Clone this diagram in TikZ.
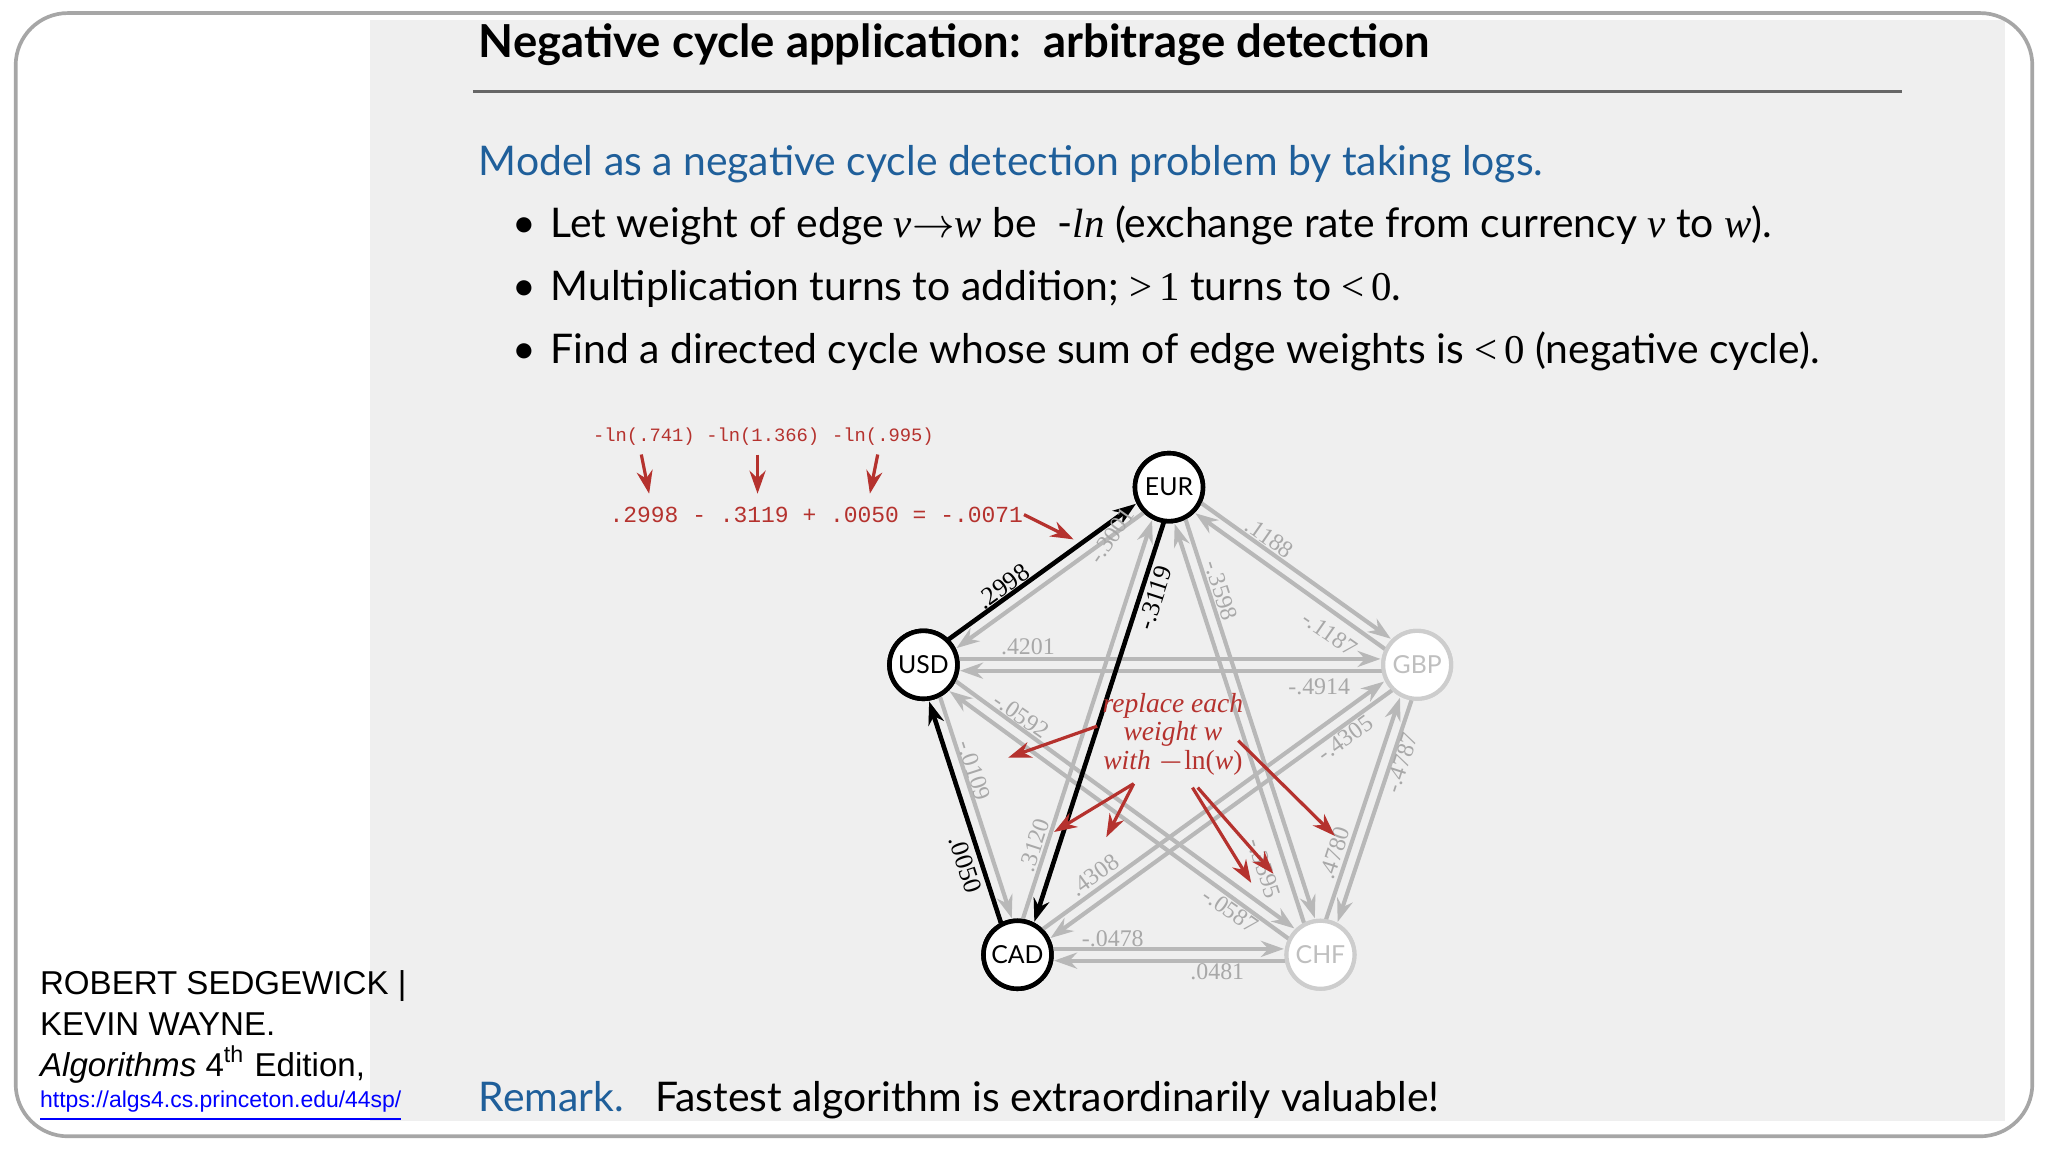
\documentclass[tikz,border=0pt]{standalone}
\usepackage{fontspec}
\setmainfont{Lato}
\newfontfamily\credfont{Liberation Sans}
\newfontfamily\serifit{Liberation Serif}
\newfontfamily\monofont{Liberation Mono}
\usetikzlibrary{arrows.meta,calc,positioning}
\definecolor{SlideClr}{HTML}{EFEFEF}
\definecolor{HeadClr}{HTML}{1F5F9A}
\definecolor{NoteClr}{HTML}{B5322E}
\definecolor{EdgeClr}{HTML}{B8B8B8}
\definecolor{WeightClr}{HTML}{A8A8A8}

\tikzset{
  cur/.style={circle,draw,line width=1pt,fill=white,minimum size=0.52cm,inner sep=0pt,font=\fontsize{5.4}{6}\selectfont},
  pale/.style={cur,draw=EdgeClr!70,text=EdgeClr!90,line width=0.9pt},
  gedge/.style={draw=EdgeClr,line width=0.9pt,-{Stealth[length=5pt,width=3.5pt]},shorten <=0.27cm,shorten >=0.28cm},
  bedge/.style={gedge,draw=black,line width=1pt,fill=black},
  wt/.style={text=WeightClr,font=\fontsize{5.2}{6}\selectfont\serifit,inner sep=0pt},
  bwt/.style={wt,text=black,font=\fontsize{5.6}{6}\selectfont\serifit},
  note/.style={->,draw=NoteClr,line width=0.7pt,-{Stealth[length=5pt,width=3.5pt]}},
  body/.style={anchor=base west,inner sep=0pt,font=\fontsize{8.9}{10}\selectfont}
}

\begin{document}
\begin{tikzpicture}[x=0.01cm,y=-0.01cm]
\useasboundingbox (0,0) rectangle (1568,882);
\fill[white] (0,0) rectangle (1568,882);
\fill[SlideClr] (283,15) rectangle (1535,858);
\draw[gray!70,line width=0.8pt,rounded corners=0.4cm] (12,10) rectangle (1556,870);

% heading
\node[body,font=\fontsize{9.9}{11}\selectfont\bfseries] (title) at (366,44) {Negative cycle application:\ \ arbitrage detection};
\draw[gray!80!black,line width=0.7pt] (362,70) -- (1456,70);
\node[body,text=HeadClr] (model) at (366,134) {Model as a negative cycle detection problem by taking logs.};
\foreach \y/\name/\txt in {
  182/bA/{Let weight of edge {\serifit\itshape v}$\to${\serifit\itshape w} be \ -{\serifit\itshape ln} (exchange rate from currency {\serifit\itshape v} to {\serifit\itshape w}).},
  230/bB/{Multiplication turns to addition; {\serifit >\,1} turns to {\serifit <\,0}.},
  278/bC/{Find a directed cycle whose sum of edge weights is {\serifit <\,0} (negative cycle).}}{
  \node[body] at (392,\y) {\textbullet};
  \node[body] (\name) at (421,\y) {\txt};
}

% currencies
\node[cur] (EUR) at (895,373) {EUR};
\node[cur] (USD) at (707,509) {USD};
\node[pale] (GBP) at (1085,509) {GBP};
\node[cur] (CAD) at (779,731) {CAD};
\node[pale] (CHF) at (1011,731) {CHF};

\foreach \a/\b in {USD/EUR,EUR/GBP,GBP/CHF,CHF/CAD,CAD/USD,USD/GBP,USD/CHF,EUR/CAD,EUR/CHF,GBP/CAD}{
  \draw[gedge] ($(\a)!0.045cm!90:(\b)$) -- ($(\b)!0.045cm!-90:(\a)$);
  \draw[gedge] ($(\b)!0.045cm!90:(\a)$) -- ($(\a)!0.045cm!-90:(\b)$);
}
\foreach \a/\b in {USD/EUR,EUR/CAD,CAD/USD}
  \draw[bedge] ($(\a)!0.045cm!90:(\b)$) -- ($(\b)!0.045cm!-90:(\a)$);
\foreach \n in {EUR,USD,CAD} \node[cur] at (\n) {\n};
\node[pale] at (GBP) {GBP};
\node[pale] at (CHF) {CHF};

% weights
\node[bwt,rotate=36] (w1) at (768,449) {.2998};
\node[bwt,rotate=72] (w2) at (884,458) {-.3119};
\node[bwt,rotate=-72] (w3) at (739,662) {.0050};
\foreach \x/\y/\r/\w [count=\i] in {851/410/55/-.3001, 972/412/-35/.1188, 935/452/-72/-.3598,
  1018/485/-35/-.1187, 787/495/0/.4201, 1010/526/0/-.4914, 782/548/-35/-.0592,
  746/590/-72/-.0109, 792/647/72/.3120, 838/670/36/.4308, 1030/565/36/-.4305,
  1073/584/72/-.4787, 1022/653/72/.4780, 968/665/-72/-.3595, 942/697/-35/-.0587,
  852/719/0/-.0478, 932/744/0/.0481}
  \node[wt,rotate=\r] (g\i) at (\x,\y) {\w};

% red notes
\foreach \x/\t [count=\i] in {493/-ln(.741),584/-ln(1.366),676/-ln(.995)}
  \node[text=NoteClr,font=\fontsize{4.1}{5}\selectfont\monofont] (ln\i) at (\x,334) {\t};
\node[text=NoteClr,font=\fontsize{5}{6}\selectfont\monofont] (sum) at (625,394) {.2998 - .3119 + .0050 = -.0071};
\draw[note] (491,348) -- (497,378);
\draw[note] (580,348) -- (580,378);
\draw[note] (672,348) -- (666,378);
\draw[note] (784,394) -- (822,413);
\node[text=NoteClr,align=center,font=\fontsize{6}{6.2}\selectfont\serifit\itshape] (repl) at (898,562)
  {replace each\\weight w\\with {\upshape$-$ln(}w{\upshape)}};
\draw[note] (840,556) -- (772,580);
\draw[note] (868,600) -- (807,637);
\draw[note] (868,600) -- (847,641);
\draw[note] (913,603) -- (958,676);
\draw[note] (917,603) -- (975,669);
\draw[note] (948,567) -- (1022,640);

% remark and credit
\node[body,text=HeadClr] (rem) at (366,851) {Remark.};
\node[body] (fast) at (501,851) {Fastest algorithm is extraordinarily valuable!};
\node[anchor=north west,align=left,inner sep=0pt,font=\fontsize{7.2}{9}\selectfont\credfont] (cred) at (30,742)
  {ROBERT SEDGEWICK |\\KEVIN WAYNE.\\\textit{Algorithms} 4\textsuperscript{th} Edition,};
\node[anchor=base west,inner sep=0pt,text=blue,font=\fontsize{5}{6}\selectfont\credfont] (url) at (30,848)
  {\underline{https://algs4.cs.princeton.edu/44sp/}};
\end{tikzpicture}
\end{document}
